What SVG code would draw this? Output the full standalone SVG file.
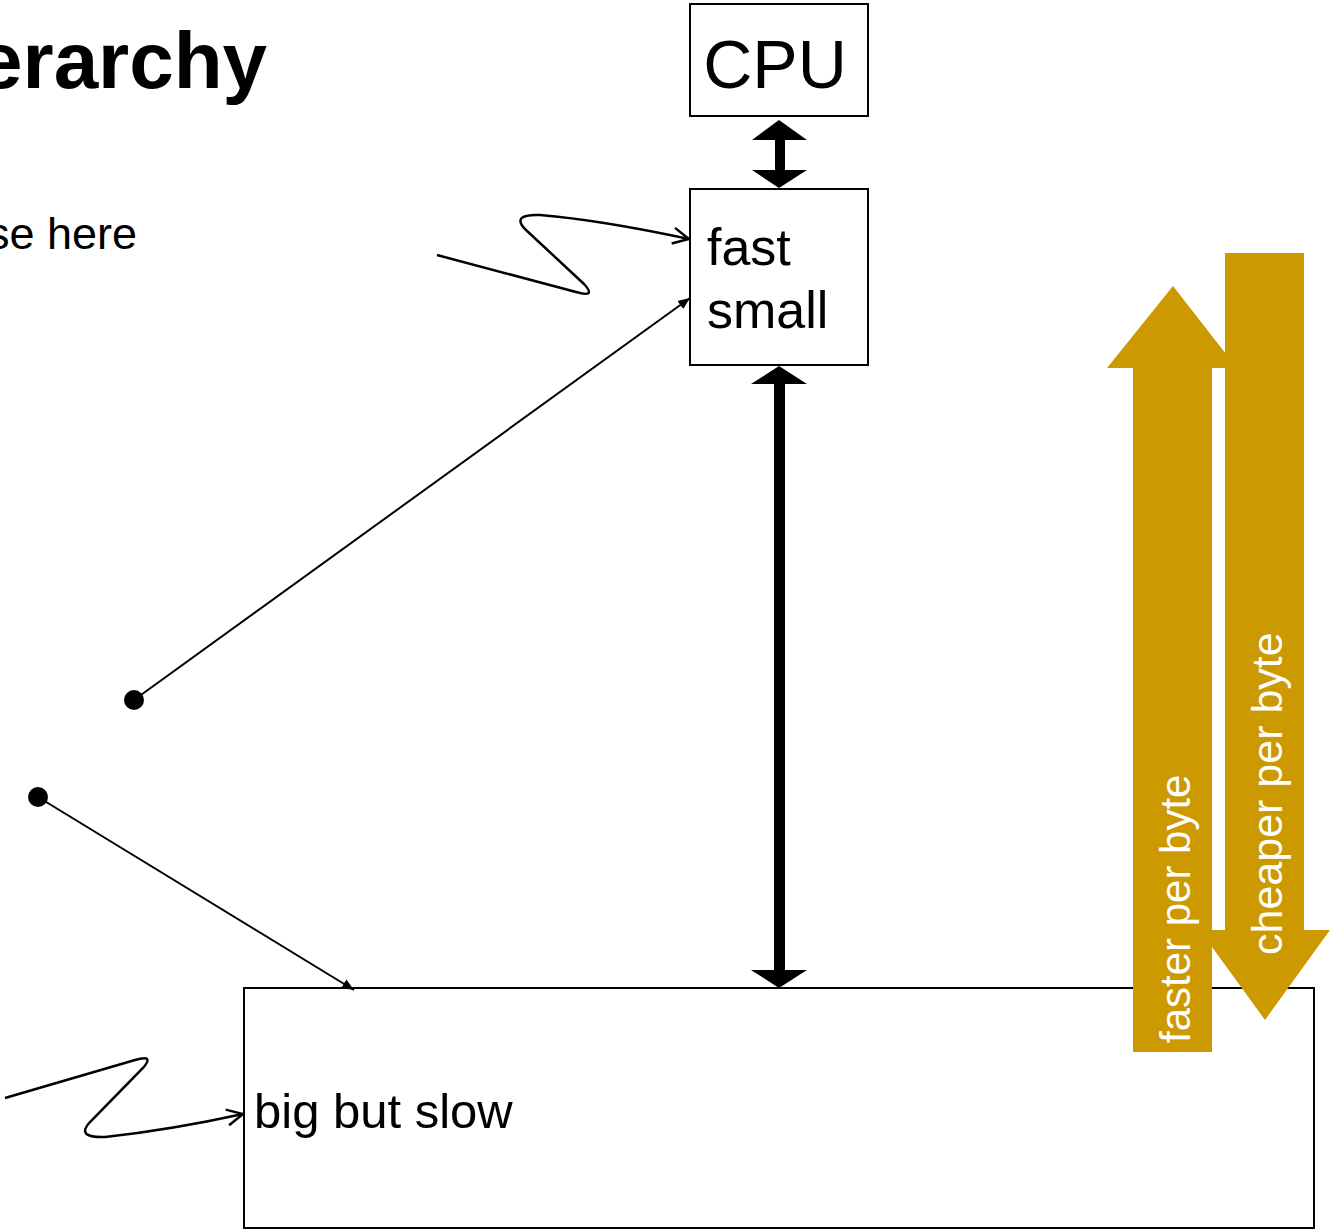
<svg xmlns="http://www.w3.org/2000/svg" width="1331" height="1231" viewBox="0 0 1331 1231">
<style>
text{font-family:"Liberation Sans",Arial,sans-serif;fill:#000}
.box{fill:#fff;stroke:#000;stroke-width:2}
.thin{fill:none;stroke:#000;stroke-width:2}
.curvy{fill:none;stroke:#000;stroke-width:2.5}
.gold{fill:#CC9900}
.wt{fill:#fff}
</style>
<defs>
<marker id="open" viewBox="0 0 20 20" refX="19" refY="10" markerWidth="20" markerHeight="20" markerUnits="userSpaceOnUse" orient="auto">
<path d="M3,2 L19,10 L3,18" fill="none" stroke="#000" stroke-width="2.4"/>
</marker>
<marker id="tri" viewBox="0 0 12 12" refX="12" refY="6" markerWidth="12" markerHeight="12" markerUnits="userSpaceOnUse" orient="auto">
<path d="M0,1 L12,6 L0,11 Z" fill="#000"/>
</marker>
</defs>
<rect width="1331" height="1231" fill="#fff"/>
<text x="-22" y="88" font-size="80" font-weight="bold">erarchy</text>
<text x="137" y="249" font-size="45" text-anchor="end">se here</text>

<g id="cpu">
<rect class="box" x="690" y="4" width="178" height="112"/>
<text x="775" y="88" font-size="68" text-anchor="middle">CPU</text>
</g>
<g id="fast">
<rect class="box" x="690" y="189" width="178" height="176"/>
<text x="707" y="265" font-size="52">fast</text>
<text x="707" y="328" font-size="52">small</text>
</g>
<g id="big">
<rect class="box" x="244" y="988" width="1070" height="240"/>
<text x="254" y="1128" font-size="49">big but slow</text>
</g>

<g id="connectors">
<polygon points="779,120 807,140 752,140"/>
<rect x="775" y="140" width="10" height="30"/>
<polygon points="752,170 807,170 779,188"/>
<polygon points="779,366 807,384 751,384"/>
<rect x="774" y="384" width="11" height="586"/>
<polygon points="751,970 807,970 779,988"/>
<path class="curvy" marker-end="url(#open)" d="M437,255 L576,292 Q597,298 584,284 L526,230 Q510,214 540,215 Q600,220 689,239"/>
<circle cx="134" cy="700" r="10"/>
<line class="thin" x1="134" y1="700" x2="690" y2="298" marker-end="url(#tri)"/>
<circle cx="38" cy="797" r="10"/>
<line class="thin" x1="38" y1="797" x2="354" y2="990" marker-end="url(#tri)"/>
<path class="curvy" marker-end="url(#open)" d="M5,1098 L135,1060 Q155,1054 143,1068 L90,1122 Q75,1138 105,1137 Q170,1130 243,1114"/>
</g>

<g id="faster">
<polygon class="gold" points="1133,1052 1133,368 1107,368 1173,286 1226,354 1226,368 1212,368 1212,1052"/>
<text class="wt" transform="translate(1190,1043) rotate(-90)" font-size="42">faster per byte</text>
</g>
<g id="cheaper">
<polygon class="gold" points="1225,253 1304,253 1304,930 1330,930 1265,1020 1212,947 1212,930 1225,930"/>
<text class="wt" transform="translate(1282,955) rotate(-90)" font-size="43">cheaper per byte</text>
</g>
</svg>
